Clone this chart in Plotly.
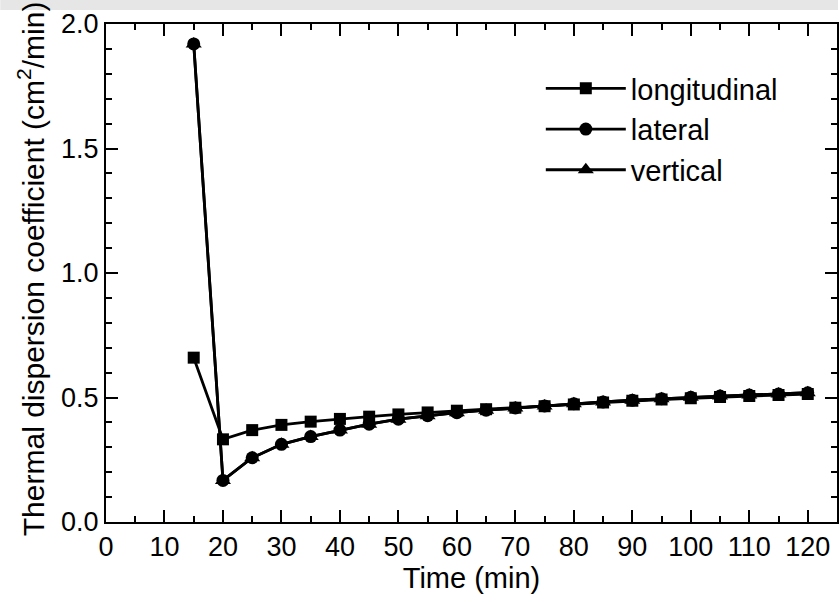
import plotly.graph_objects as go

time_min = [15, 20, 25, 30, 35, 40, 45, 50, 55, 60, 65, 70, 75, 80, 85, 90, 95, 100, 105, 110, 115, 120]
longitudinal = [0.66, 0.332, 0.369, 0.39, 0.403, 0.414, 0.423, 0.432, 0.44, 0.447, 0.453, 0.459, 0.465, 0.472, 0.48, 0.487, 0.492, 0.497, 0.502, 0.506, 0.51, 0.514]
lateral = [1.92, 0.167, 0.258, 0.312, 0.343, 0.369, 0.393, 0.413, 0.427, 0.439, 0.449, 0.458, 0.466, 0.475, 0.482, 0.489, 0.495, 0.501, 0.506, 0.51, 0.514, 0.519]
vertical = [1.92, 0.167, 0.258, 0.312, 0.343, 0.369, 0.393, 0.413, 0.427, 0.439, 0.449, 0.458, 0.466, 0.475, 0.482, 0.489, 0.495, 0.501, 0.506, 0.51, 0.514, 0.519]

series_names = ["longitudinal", "lateral", "vertical"]
x_ticks = [0, 10, 20, 30, 40, 50, 60, 70, 80, 90, 100, 110, 120]
y_ticks = [0.0, 0.5, 1.0, 1.5, 2.0]

W, H = 840, 602
ML, MR, MT, MB = 106, 1, 24, 80
plot_h = H - MT - MB
plot_w = W - ML - MR

FONT = "Liberation Sans, Arial, sans-serif"

fig = go.Figure()
for name, vals, sym, sz in [
    (series_names[0], longitudinal, "square", 12),
    (series_names[1], lateral, "circle", 13),
    (series_names[2], vertical, "triangle-up", 14),
]:
    fig.add_trace(go.Scatter(
        x=time_min, y=vals, name=name, mode="lines+markers",
        line=dict(color="black", width=2.8),
        marker=dict(symbol=sym, size=sz, color="black"),
    ))

axis_common = dict(
    showline=True, linecolor="black", linewidth=2, mirror="ticks",
    ticks="inside", ticklen=12, tickwidth=2, tickcolor="black",
    showgrid=False, zeroline=False,
    tickfont=dict(family=FONT, size=27, color="black"),
)

fig.update_xaxes(
    range=[0, 125], tickvals=x_ticks,
    minor=dict(dtick=5, ticks="inside", ticklen=6, tickwidth=2, tickcolor="black", showgrid=False),
    title=dict(text="Time (min)", font=dict(family=FONT, size=29, color="black"), standoff=4),
    **axis_common,
)
fig.update_yaxes(
    range=[0, 2.0], tickvals=y_ticks, tickformat=".1f", ticksuffix="\u00a0",
    minor=dict(dtick=0.1, ticks="inside", ticklen=6, tickwidth=2, tickcolor="black", showgrid=False),
    **axis_common,
)

fig.add_annotation(
    text="Thermal dispersion coefficient (cm<sup>2</sup>/min)",
    xref="paper", yref="paper", x=(31 - ML) / plot_w, y=(H - MB - 269) / plot_h,
    xanchor="center", yanchor="middle", textangle=-90, showarrow=False,
    font=dict(family=FONT, size=30, color="black"),
)

fig.add_shape(
    type="rect", xref="paper", yref="paper",
    x0=-ML / plot_w, x1=1 + MR / plot_w,
    y0=1 + (MT - 10) / plot_h, y1=1 + MT / plot_h,
    fillcolor="#e6e6e6", line=dict(width=0), layer="above",
)

fig.update_layout(
    width=W, height=H,
    margin=dict(l=ML, r=MR, t=MT, b=MB),
    paper_bgcolor="white", plot_bgcolor="white",
    font=dict(family=FONT, color="black"),
    showlegend=True,
    legend=dict(
        x=(542 - ML) / plot_w, y=(H - MB - 63) / plot_h, xanchor="left", yanchor="top",
        bgcolor="rgba(0,0,0,0)", font=dict(family=FONT, size=29, color="black"),
        itemwidth=80, tracegroupgap=0,
    ),
)

fig.write_html("out.html")
